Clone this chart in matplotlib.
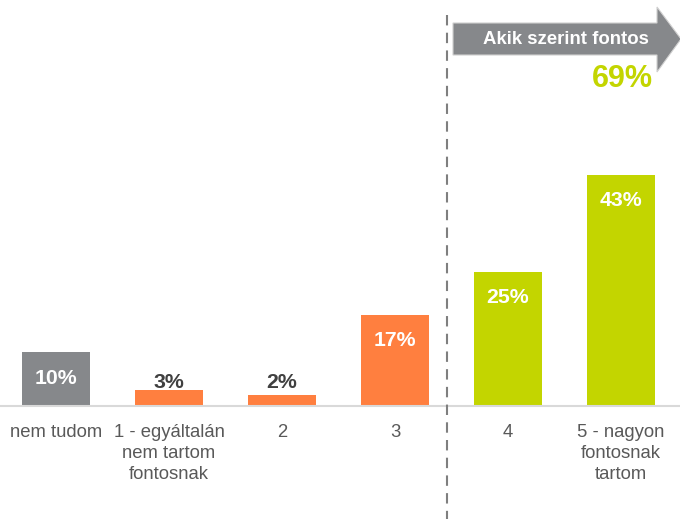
import matplotlib
matplotlib.use("Agg")
import matplotlib.pyplot as plt
from matplotlib.patches import Polygon

plt.rcParams['font.family'] = ['Liberation Sans', 'DejaVu Sans']

categories = ["nem tudom", "1 - egyáltalán\nnem tartom\nfontosnak", "2", "3", "4",
              "5 - nagyon\nfontosnak\ntartom"]
values = [10, 3, 2, 17, 25, 43]
colors = ["#86888b", "#ff7f3f", "#ff7f3f", "#ff7f3f", "#c3d500", "#c3d500"]
arrow_label = "Akik szerint fontos"
total_label = "69%"

W, H = 680, 519
fig = plt.figure(figsize=(W / 100, H / 100), dpi=100)
base_px = 113
ax = fig.add_axes([0, base_px / H, 1, (H - base_px) / H])
x = list(range(len(values)))
ax.bar(x, values, width=0.61, color=colors, zorder=2)
ax.set_xlim(-0.4956, 5.522)
ax.set_ylim(0, (H - base_px) / 5.37)
for s in ["top", "left", "right"]:
    ax.spines[s].set_visible(False)
ax.spines["bottom"].set_color("#d9d9d9")
ax.spines["bottom"].set_linewidth(1.5)
ax.set_yticks([])
ax.set_xticks(x)
ax.set_xticklabels(categories, fontsize=13.3, color="#595959", linespacing=1.32)
ax.tick_params(axis="x", length=0, pad=13)

for xi, v in zip(x, values):
    if v >= 8:
        ax.text(xi, v - 4.8, f"{v}%", ha="center", va="center", color="white",
                fontsize=15.3, fontweight="bold", zorder=3)
    else:
        ax.text(xi, 4.3, f"{v}%", ha="center", va="center", color="#404040",
                fontsize=15.3, fontweight="bold", zorder=3)

# overlay in pixel coordinates for decorations
ov = fig.add_axes([0, 0, 1, 1], facecolor="none")
ov.set_xlim(0, W)
ov.set_ylim(H, 0)
ov.axis("off")
ov.plot([447, 447], [15, H], color="#7f7f7f", lw=1.5, dashes=(5, 3.5))
arrow = Polygon([(453, 23), (657, 23), (657, 7), (681, 39), (657, 72), (657, 55), (453, 55)],
                closed=True, facecolor="#86888b", edgecolor="#d0d0d0", lw=0.8, clip_on=False)
ov.add_patch(arrow)
ov.text(566, 40, arrow_label, ha="center", va="center", color="white",
        fontsize=13.4, fontweight="bold")
ov.text(653, 79, total_label, ha="right", va="center", color="#c3d500",
        fontsize=22, fontweight="bold")

fig.savefig("out.png", dpi=100)
